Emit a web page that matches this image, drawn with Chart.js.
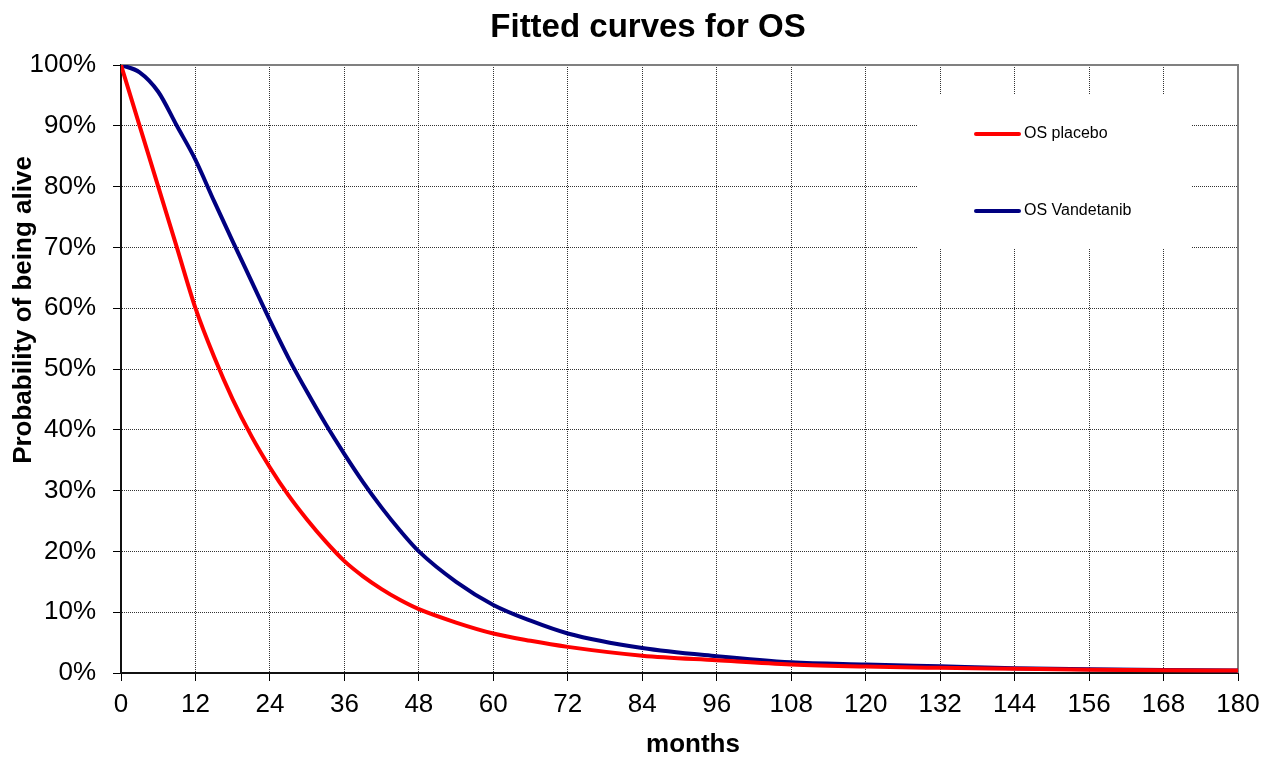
<!DOCTYPE html>
<html>
<head>
<meta charset="utf-8">
<title>Fitted curves for OS</title>
<script src="https://cdn.jsdelivr.net/npm/chart.js@4/dist/chart.umd.min.js"></script>
<style>
  body { margin: 0; background: #fff; }
  canvas { display: block; }
</style>
</head>
<body>
<canvas id="chartContainer" width="1280" height="760"></canvas>
<script>
// values (months, % alive)
const months = [0, 3, 6, 9, 12, 15, 18, 21, 24, 27, 30, 33, 36, 39, 42, 45, 48, 54, 60, 66, 72, 84, 96, 108, 120, 132, 144, 156, 168, 180];
const osPlacebo = [100, 90, 80, 70, 60, 52, 45, 39, 33.8, 29.2, 25.2, 21.6, 18.4, 15.9, 13.8, 12, 10.5, 8.3, 6.5, 5.3, 4.3, 2.85, 2.1, 1.4, 1.05, 0.85, 0.7, 0.55, 0.45, 0.4];
const osVandetanib = [100, 98.8, 95.6, 90, 84.4, 77.6, 71, 64.5, 58, 51.8, 46.2, 40.9, 36, 31.4, 27.2, 23.4, 20, 15, 11.2, 8.6, 6.5, 4.1, 2.75, 1.75, 1.4, 1.1, 0.8, 0.6, 0.5, 0.4];
const seriesLabels = ['OS placebo', 'OS Vandetanib'];
const seriesColors = ['#ff0000', '#000080'];
const xTicks = [0, 12, 24, 36, 48, 60, 72, 84, 96, 108, 120, 132, 144, 156, 168, 180];
const yTicks = [0, 10, 20, 30, 40, 50, 60, 70, 80, 90, 100];
const chartTitle = 'Fitted curves for OS';
const xTitle = 'months';
const yTitle = 'Probability of being alive';

const FONT = "'Liberation Sans', Arial, sans-serif";

function toPoints(values) {
    return months.map((m, i) => ({ x: m, y: values[i] }));
}

// white legend box inside the plot, grey top/right frame, titles
const legendBoxPlugin = {
    id: 'legendBox',
    beforeDatasetsDraw(chart) {
        const ctx = chart.ctx;
        const area = chart.chartArea;
        ctx.save();
        ctx.strokeStyle = '#808080';
        ctx.lineWidth = 2;
        ctx.beginPath();
        ctx.moveTo(area.left, area.top);
        ctx.lineTo(area.right, area.top);
        ctx.lineTo(area.right, area.bottom);
        ctx.stroke();

        ctx.fillStyle = '#fff';
        ctx.fillRect(918, 95, 274, 154);

        ctx.font = '16px ' + FONT;
        ctx.textBaseline = 'middle';
        ctx.lineCap = 'round';
        chart.data.datasets.forEach((ds, i) => {
            const y = 134 + i * 77;
            ctx.strokeStyle = ds.borderColor;
            ctx.lineWidth = 4;
            ctx.beginPath();
            ctx.moveTo(976, y);
            ctx.lineTo(1019, y);
            ctx.stroke();
            ctx.fillStyle = '#000';
            ctx.fillText(ds.label, 1024, y);
        });
        ctx.restore();
    },
    afterDraw(chart) {
        const ctx = chart.ctx;
        ctx.save();
        ctx.fillStyle = '#000';
        ctx.textAlign = 'center';
        ctx.textBaseline = 'middle';
        ctx.font = 'bold 33px ' + FONT;
        ctx.fillText(chartTitle, 648, 28);
        ctx.font = 'bold 26px ' + FONT;
        ctx.fillText(xTitle, 693, 745);
        ctx.translate(24, 310);
        ctx.rotate(-Math.PI / 2);
        ctx.fillText(yTitle, 0, 0);
        ctx.restore();
    }
};

function createChart(ctx) {
    return new Chart(ctx, {
        type: 'line',
        data: {
            datasets: [
                {
                    label: seriesLabels[0],
                    data: toPoints(osPlacebo),
                    borderColor: seriesColors[0],
                    borderWidth: 4,
                    pointRadius: 0,
                    fill: false,
                    cubicInterpolationMode: 'monotone'
                },
                {
                    label: seriesLabels[1],
                    data: toPoints(osVandetanib),
                    borderColor: seriesColors[1],
                    borderWidth: 4,
                    pointRadius: 0,
                    fill: false,
                    cubicInterpolationMode: 'monotone'
                }
            ]
        },
        options: {
            responsive: false,
            animation: false,
            layout: { padding: { left: 0, right: 42, top: 65, bottom: 0 } },
            plugins: {
                legend: { display: false },
                tooltip: { enabled: false },
                title: { display: false }
            },
            scales: {
                x: {
                    type: 'linear',
                    min: 0,
                    max: 180,
                    afterBuildTicks: (scale) => { scale.ticks = xTicks.map(v => ({ value: v })); },
                    afterFit: (scale) => { scale.height = 87; },
                    ticks: {
                        color: '#000',
                        padding: 8,
                        maxRotation: 0,
                        autoSkip: false,
                        font: { family: FONT, size: 26 }
                    },
                    grid: {
                        color: '#333',
                        lineWidth: 1,
                        tickLength: 8,
                        tickColor: '#000',
                        tickBorderDash: []
                    },
                    border: { color: '#111', width: 2, dash: [1, 1] }
                },
                y: {
                    type: 'linear',
                    min: 0,
                    max: 100,
                    afterBuildTicks: (scale) => { scale.ticks = yTicks.map(v => ({ value: v })); },
                    afterFit: (scale) => { scale.width = 121; },
                    ticks: {
                        color: '#000',
                        padding: 17,
                        font: { family: FONT, size: 26 },
                        callback: (v) => v + '%'
                    },
                    grid: {
                        color: '#333',
                        lineWidth: 1,
                        tickLength: 8,
                        tickColor: '#000',
                        tickBorderDash: []
                    },
                    border: { color: '#111', width: 2, dash: [1, 1] }
                }
            }
        },
        plugins: [legendBoxPlugin]
    });
}

const chartInstance = createChart(document.getElementById('chartContainer').getContext('2d'));
</script>
</body>
</html>
